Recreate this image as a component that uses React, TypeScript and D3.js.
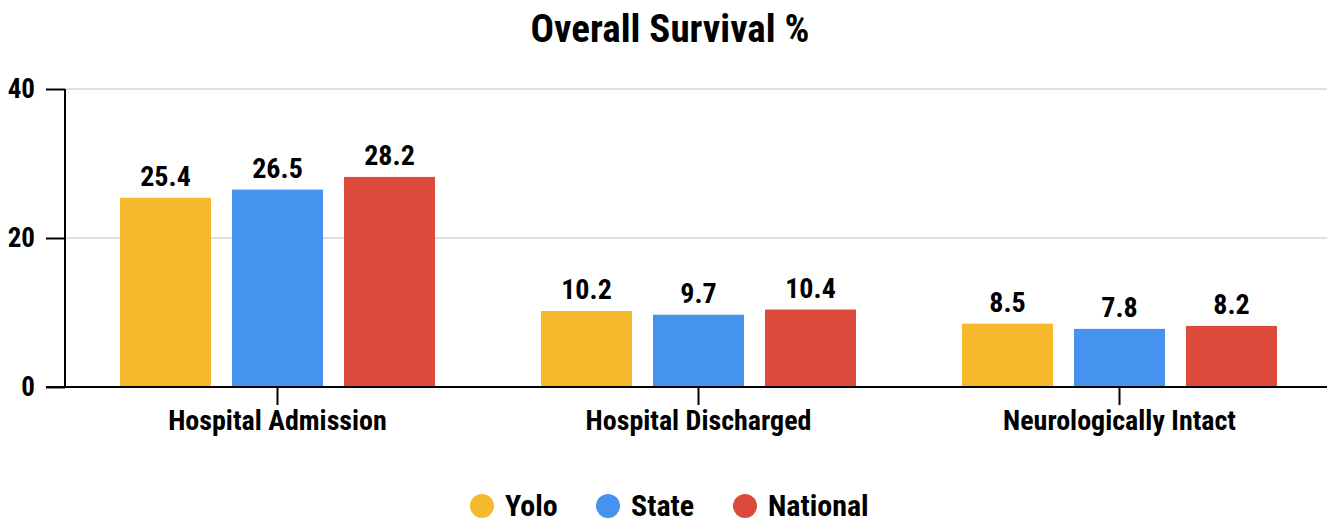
import React, { useEffect, useRef } from "react";
import * as d3 from "d3";

const categories = ["Hospital Admission", "Hospital Discharged", "Neurologically Intact"];
const seriesNames = ["Yolo", "State", "National"];
const yolo = [25.4, 10.2, 8.5];
const state = [26.5, 9.7, 7.8];
const national = [28.2, 10.4, 8.2];
const colors = ["#f6b92c", "#4592ef", "#dc4a3c"];
const yTicks = [0, 20, 40];

const FONT = "'Roboto Condensed', 'Liberation Sans Narrow', 'Arial Narrow', 'DejaVu Sans', sans-serif";

export default function App() {
  const svgRef = useRef<SVGSVGElement>(null);

  useEffect(() => {
    const width = 1333;
    const height = 519;
    const axisX = 65, left = 67, right = 1330, top = 89, bottom = 387;

    const svg = d3.select(svgRef.current);
    svg.selectAll("*").remove();

    const values = [yolo, state, national];

    const x = d3.scaleBand().domain(categories).range([left, right]);
    const xInner = d3.scaleBand()
      .domain(seriesNames)
      .range([53, x.bandwidth() - 53])
      .paddingInner(0.1875);
    const y = d3.scaleLinear().domain([0, 40]).range([bottom, top]);

    const styleText = (sel: any, size: number) =>
      sel.attr("font-family", FONT)
        .attr("font-stretch", "condensed")
        .attr("font-weight", "bold")
        .attr("font-size", size)
        .attr("fill", "#000");

    // gridlines
    svg.append("g")
      .selectAll("line")
      .data(yTicks.filter(t => t > 0))
      .join("line")
      .attr("x1", axisX)
      .attr("x2", right - 3)
      .attr("y1", d => y(d))
      .attr("y2", d => y(d))
      .attr("stroke", "#e0e0e0")
      .attr("stroke-width", 2);

    // bars
    const groups = svg.append("g")
      .selectAll("g")
      .data(categories)
      .join("g")
      .attr("transform", d => `translate(${x(d)},0)`);

    groups.each(function (cat, ci) {
      const g = d3.select(this);
      seriesNames.forEach((s, si) => {
        const v = values[si][ci];
        g.append("rect")
          .attr("x", xInner(s)!)
          .attr("y", y(v))
          .attr("width", xInner.bandwidth())
          .attr("height", y(0) - y(v))
          .attr("fill", colors[si]);
        styleText(g.append("text"), 28)
          .attr("x", xInner(s)! + xInner.bandwidth() / 2)
          .attr("y", y(v) - 12)
          .attr("text-anchor", "middle")
          .text(String(v));
      });
    });

    // y axis
    const yAxis = svg.append("g")
      .attr("transform", `translate(${axisX},0)`)
      .call(d3.axisLeft(y).tickValues(yTicks).tickSize(19).tickPadding(11));
    yAxis.select(".domain").remove();
    yAxis.append("line")
      .attr("x1", 0).attr("x2", 0)
      .attr("y1", top).attr("y2", bottom)
      .attr("stroke", "#000").attr("stroke-width", 2);
    yAxis.selectAll(".tick line").attr("stroke", "#000").attr("stroke-width", 2);
    styleText(yAxis.selectAll(".tick text"), 27);

    // x axis
    const xAxis = svg.append("g")
      .attr("transform", `translate(0,${bottom})`)
      .call(d3.axisBottom(x).tickSize(18).tickPadding(5));
    xAxis.select(".domain").remove();
    xAxis.append("line")
      .attr("x1", axisX - 19).attr("x2", right - 3)
      .attr("y1", 0).attr("y2", 0)
      .attr("stroke", "#000").attr("stroke-width", 2);
    xAxis.selectAll(".tick line").attr("stroke", "#000").attr("stroke-width", 2);
    styleText(xAxis.selectAll(".tick text"), 28);

    // title
    styleText(svg.append("text"), 39)
      .attr("x", 670)
      .attr("y", 42)
      .attr("text-anchor", "middle")
      .text("Overall Survival %");

    // legend
    const legendX = [482, 608, 745];
    const legend = svg.append("g")
      .selectAll("g")
      .data(seriesNames)
      .join("g")
      .attr("transform", (d, i) => `translate(${legendX[i]},506)`);
    legend.append("circle")
      .attr("r", 12)
      .attr("fill", (d, i) => colors[i]);
    styleText(legend.append("text"), 30)
      .attr("x", 23)
      .attr("y", 10)
      .text(d => d);

    svg.attr("width", width).attr("height", height);
  }, []);

  return (
    <div style={{ position: "absolute", left: 0, top: 0 }}>
      <svg ref={svgRef} width={1333} height={519} style={{ display: "block", background: "#fff" }} />
    </div>
  );
}
